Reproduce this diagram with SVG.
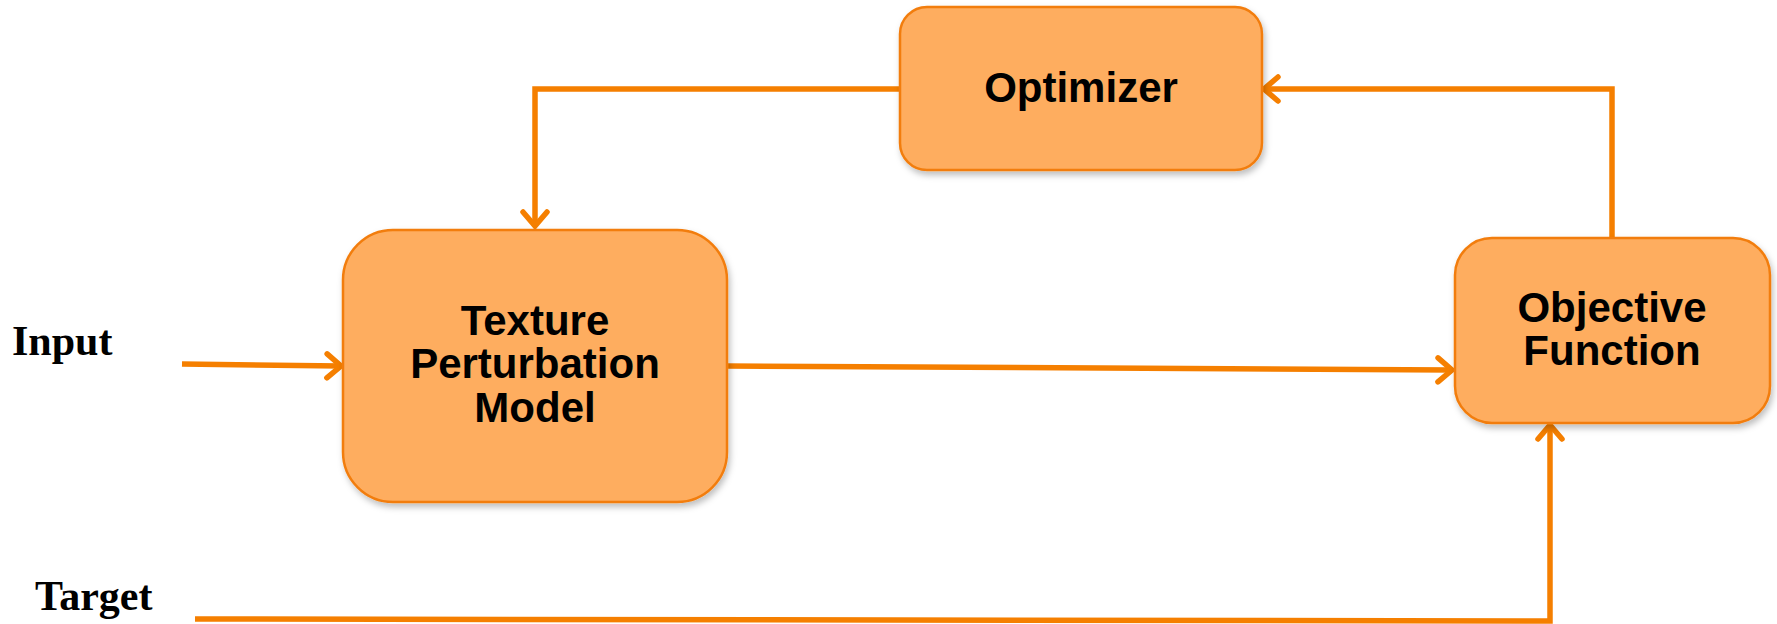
<svg xmlns="http://www.w3.org/2000/svg" width="1777" height="624" viewBox="0 0 1777 624">
<style>
.box{fill:#FEAD5F;stroke:#F27D0C;stroke-width:2.5}
.lbl{font-family:"Liberation Sans",Arial,sans-serif;font-weight:bold;font-size:42px;fill:#000;text-anchor:middle}
.side{font-family:"Liberation Serif","Times New Roman",serif;font-weight:bold;font-size:42px;fill:#000}
.con{fill:none;stroke:#F57F00;stroke-width:5.5;stroke-linejoin:miter}
</style>
<defs>
<filter id="sh" x="-10%" y="-10%" width="125%" height="130%">
<feDropShadow dx="2" dy="4" stdDeviation="3" flood-color="#000" flood-opacity="0.25"/>
</filter>
<marker id="arr" markerUnits="userSpaceOnUse" viewBox="-20 -16 26 32" markerWidth="26" markerHeight="32" refX="0" refY="0" orient="auto" overflow="visible">
<path d="M-14,-12 L0,0 L-14,12" fill="none" stroke="#F57F00" stroke-width="5.5" stroke-linecap="round" stroke-linejoin="miter"/>
</marker>
</defs>
<rect width="1777" height="624" fill="#fff"/>
<g id="connectors">
<path class="con" d="M900,89 L535,89 L535,226" marker-end="url(#arr)"/>
<path class="con" d="M1612,238 L1612,89 L1264,89" marker-end="url(#arr)"/>
<path class="con" d="M182,364 L341,366" marker-end="url(#arr)"/>
<path class="con" d="M727,366 L1452,370" marker-end="url(#arr)"/>
<path class="con" d="M195,619 L1550,621 L1550,425" marker-end="url(#arr)"/>
</g>
<g id="optimizer">
<rect class="box" x="900" y="7" width="362" height="163" rx="27" filter="url(#sh)"/>
<text class="lbl" x="1081" y="102">Optimizer</text>
</g>
<g id="texture">
<rect class="box" x="343" y="230" width="384" height="272" rx="50" filter="url(#sh)"/>
<text class="lbl" x="535" y="335">Texture</text>
<text class="lbl" x="535" y="378">Perturbation</text>
<text class="lbl" x="535" y="422">Model</text>
</g>
<g id="objective">
<rect class="box" x="1455" y="238" width="315" height="185" rx="37" filter="url(#sh)"/>
<text class="lbl" x="1612" y="322">Objective</text>
<text class="lbl" x="1612" y="365">Function</text>
</g>
<g id="input">
<text class="side" x="12" y="355">Input</text>
</g>
<g id="target">
<text class="side" x="35" y="610">Target</text>
</g>
</svg>
